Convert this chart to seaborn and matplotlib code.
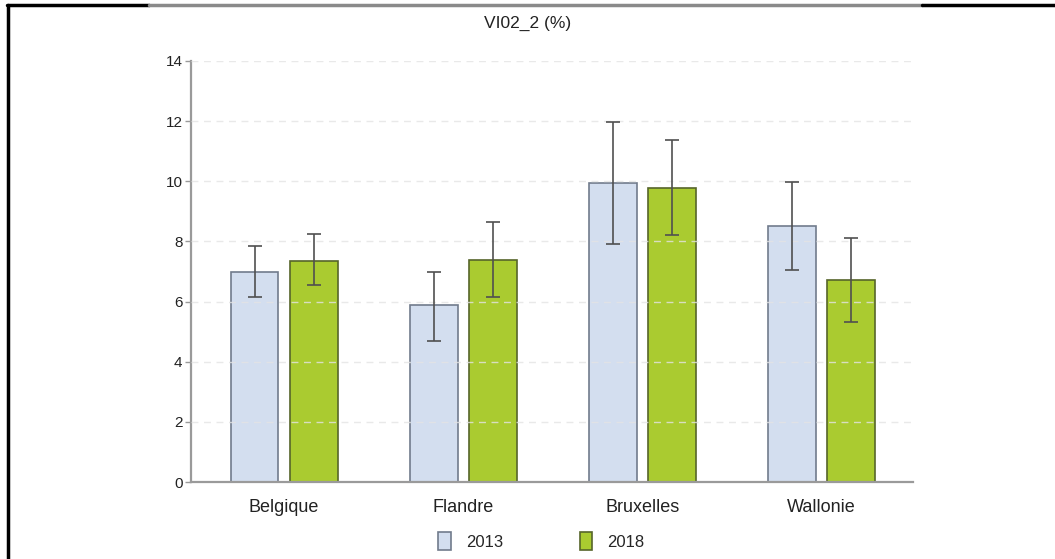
import pandas as pd
import numpy as np
import matplotlib
matplotlib.use("Agg")
import matplotlib.pyplot as plt
import seaborn as sns
from matplotlib.lines import Line2D

# values
regions = ["Belgique", "Flandre", "Bruxelles", "Wallonie"]
years = ["2013", "2018"]
val_2013 = [6.97, 5.88, 9.93, 8.52]
val_2018 = [7.36, 7.38, 9.78, 6.72]
low_2013 = [6.15, 4.69, 7.90, 7.06]
high_2013 = [7.85, 6.98, 11.97, 9.98]
low_2018 = [6.55, 6.15, 8.20, 5.32]
high_2018 = [8.25, 8.65, 11.37, 8.11]
y_ticks = [0, 2, 4, 6, 8, 10, 12, 14]

fill_colors = {"2013": "#d3deef", "2018": "#aacb30"}
edge_colors = {"2013": "#717b8c", "2018": "#56652a"}

df = pd.DataFrame({
    "Region": regions * 2,
    "Year": ["2013"] * 4 + ["2018"] * 4,
    "Value": val_2013 + val_2018,
    "Low": low_2013 + low_2018,
    "High": high_2013 + high_2018,
})

sns.set_style("white")
plt.rcParams["font.family"] = ["Liberation Sans", "DejaVu Sans"]

fig = plt.figure(figsize=(10.55, 5.59), dpi=100)
ax = fig.add_axes([0.181, 0.1377, 0.684, 0.7532])

sns.barplot(data=df, x="Region", y="Value", hue="Year", order=regions,
            hue_order=years, palette=fill_colors, saturation=1, width=0.66,
            gap=0.19, errorbar=None, ax=ax, zorder=2)

for year, cont in zip(years, ax.containers):
    sub = df[df["Year"] == year].set_index("Region").loc[regions]
    xs = []
    for bar in cont:
        bar.set_edgecolor(edge_colors[year])
        bar.set_linewidth(1.2)
        xs.append(bar.get_x() + bar.get_width() / 2)
    xs = np.array(xs)
    ax.errorbar(xs, sub["Value"].values,
                yerr=[sub["Value"].values - sub["Low"].values,
                      sub["High"].values - sub["Value"].values],
                fmt="none", ecolor="#505050", elinewidth=1.2, capsize=5,
                capthick=1.2, zorder=4)

ax.set_ylim(0, 14)
ax.set_xlim(-0.52, 3.51)
ax.set_yticks(y_ticks)
for t in y_ticks[1:]:
    ax.axhline(t, color="#e4e4e4", lw=1, ls=(0, (5, 4)), zorder=3, alpha=0.8)

for s in ["top", "right"]:
    ax.spines[s].set_visible(False)
for s in ["left", "bottom"]:
    ax.spines[s].set_color("#9a9a9a")
    ax.spines[s].set_linewidth(1.6)

ax.tick_params(axis="y", left=True, length=4, width=1, color="#9a9a9a",
               labelsize=11, pad=2, labelcolor="#222222")
ax.tick_params(axis="x", length=0, labelsize=13, pad=12, labelcolor="#222222")
ax.set_xlabel("")
ax.set_ylabel("")

ax.get_legend().remove()
handles = [plt.Rectangle((0, 0), 1, 1, facecolor=fill_colors[y],
                         edgecolor=edge_colors[y], lw=1.2) for y in years]
fig.legend(handles, years, loc="center", bbox_to_anchor=(0.513, 0.032),
           ncol=2, frameon=False, fontsize=12, handlelength=0.75,
           handleheight=1.3, handletextpad=0.9, columnspacing=4.6)

fig.text(0.5, 0.958, "VI02_2 (%)", ha="center", va="center", fontsize=12.5,
         color="#222222")

# page frame from the source document
fig.add_artist(Line2D([0.008, 0.008], [0, 0.991], transform=fig.transFigure,
                      color="black", lw=2.5))
fig.add_artist(Line2D([0.007, 0.141], [0.991, 0.991], transform=fig.transFigure,
                      color="black", lw=2.5))
fig.add_artist(Line2D([0.141, 0.874], [0.991, 0.991], transform=fig.transFigure,
                      color="#8a8a8a", lw=2.5))
fig.add_artist(Line2D([0.874, 1.0], [0.991, 0.991], transform=fig.transFigure,
                      color="black", lw=2.5))

fig.savefig("out.png", dpi=100)
